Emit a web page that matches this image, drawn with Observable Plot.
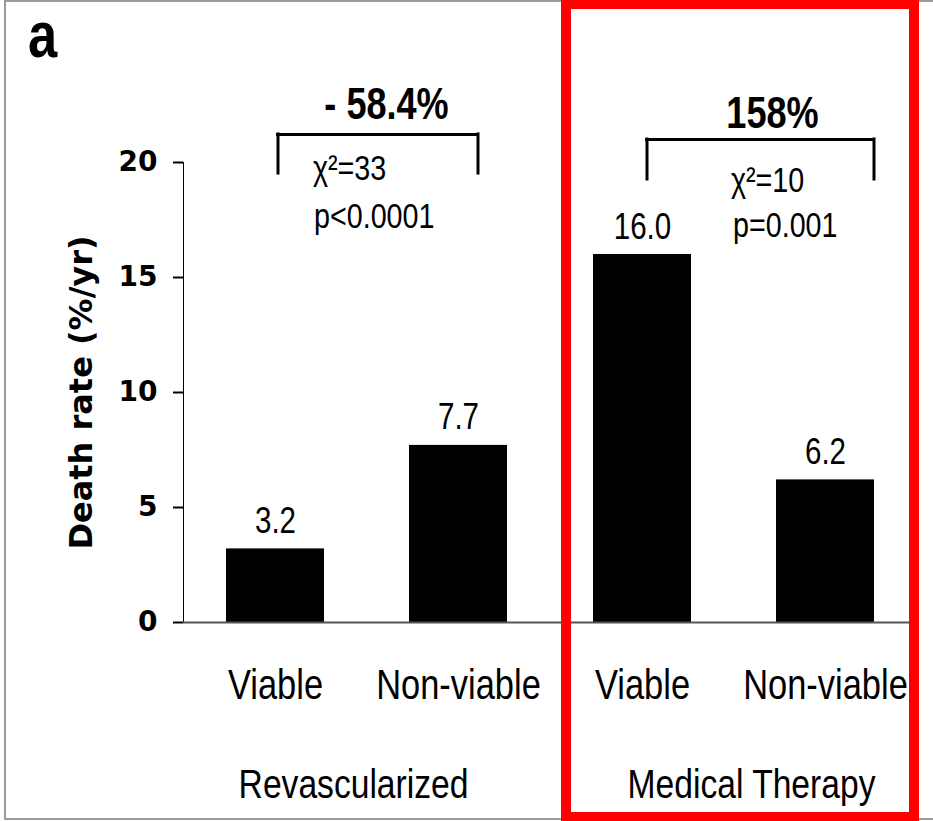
<!DOCTYPE html>
<html>
<head>
<meta charset="utf-8">
<script src="https://cdn.jsdelivr.net/npm/d3@7"></script>
<script src="https://cdn.jsdelivr.net/npm/@observablehq/plot@0.6"></script>
<style>
  html, body { margin: 0; padding: 0; background: #fff; overflow: hidden; }
  #wrap { position: relative; width: 933px; height: 821px; overflow: hidden; background: #fff; }
  #chart { position: absolute; left: 0; top: 0; }
  #chart svg { display: block; }
  #frame { position: absolute; left: 4px; top: 0; width: 960px; height: 816px; border: 2px solid #9a9a9a; }
  #red { position: absolute; left: 561px; top: -1px; width: 358px; height: 823px; border: 10px solid #ff0000; box-sizing: border-box; }
  #panel { position: absolute; left: 28px; top: 3px; font: bold 64px "Liberation Sans Narrow", "Liberation Sans", sans-serif; line-height: 1; color: #000; transform: scaleX(0.82); transform-origin: left top; }
  g[aria-label="y-axis tick label"], g[aria-label="y-axis"] g.tick text {
    font-family: "DejaVu Sans", sans-serif; font-weight: bold; font-size: 28px;
  }
  g[aria-label="x-axis tick label"], g[aria-label="x-axis"] g.tick text {
    font-family: "Liberation Sans Narrow", "Arial Narrow", "Liberation Sans", sans-serif; font-size: 42px;
  }
  g[aria-label="y-axis tick"], g[aria-label="y-axis"] g.tick line { stroke-width: 2px; stroke: #333; }
</style>
</head>
<body>
<div id="wrap">
  <div id="chart"></div>
  <div id="frame"></div>
  <div id="panel"></div>
  <div id="red"></div>
</div>
<script>
// ---- data ----
const panelLabel = "a";
const groups = ["Revascularized", "Medical Therapy"];
const conditions = ["Viable", "Non-viable"];
const revascularizedRates = [3.2, 7.7];
const medicalTherapyRates = [16.0, 6.2];
const changeLabels = ["- 58.4%", "158%"];
const chiLabels = ["χ²=33", "χ²=10"];
const pLabels = ["p<0.0001", "p=0.001"];
const yTicks = [0, 5, 10, 15, 20];
const yLabel = "Death rate (%/yr)";

// ---- tables built from the arrays ----
const ratesByGroup = [revascularizedRates, medicalTherapyRates];
const table = groups.flatMap((g, i) => conditions.map((c, j) => ({group: g, condition: c, rate: ratesByGroup[i][j]})));
const annotRows = groups.map((g, i) => ({group: g, change: changeLabels[i], chi: chiLabels[i], p: pLabels[i]}));

// ---- annotation layout (styling, in data units / pixel offsets) ----
const annotLayout = [
  {labelDx: 111, labelY: 21.9, legL: 2.5, legR: 19.5, top: 21.22, bottom: 19.52, chiDx: 37.5, chiY: 19.22, pDx: 38.5, pY: 17.17},
  {labelDx: 130, labelY: 21.48, legL: 4.5, legR: 48.5, top: 21.0, bottom: 19.26, chiDx: 88.5, chiY: 18.70, pDx: 90.5, pY: 16.74}
];
const groupLabelDx = [-13.5, 17.5];
const narrow = '"Liberation Sans Narrow", "Arial Narrow", "Liberation Sans", sans-serif';
const halfBand = 49;
const fmt = d3.format(".1f");

const annotMarks = annotRows.flatMap((row, i) => {
  const L = annotLayout[i];
  const d = [row];
  return [
    Plot.ruleX(d, {fx: "group", x: () => conditions[0], y1: L.bottom, y2: L.top, dx: L.legL, stroke: "#000", strokeWidth: 3, strokeLinecap: "square"}),
    Plot.ruleX(d, {fx: "group", x: () => conditions[1], y1: L.bottom, y2: L.top, dx: L.legR, stroke: "#000", strokeWidth: 3, strokeLinecap: "square"}),
    Plot.ruleY(d, {fx: "group", y: L.top, x1: () => conditions[0], x2: () => conditions[1], insetLeft: halfBand + L.legL, insetRight: halfBand - L.legR, stroke: "#000", strokeWidth: 3, strokeLinecap: "square"}),
    Plot.text(d, {fx: "group", x: () => conditions[0], y: L.labelY, dx: L.labelDx, text: "change", lineAnchor: "bottom", textAnchor: "middle", fontSize: 44, fontWeight: "bold", fontFamily: narrow, fill: "#000"}),
    Plot.text(d, {fx: "group", x: () => conditions[0], y: L.chiY, dx: L.chiDx, text: "chi", lineAnchor: "bottom", textAnchor: "start", fontSize: 35, fontFamily: narrow, fill: "#000"}),
    Plot.text(d, {fx: "group", x: () => conditions[0], y: L.pY, dx: L.pDx, text: "p", lineAnchor: "bottom", textAnchor: "start", fontSize: 35, fontFamily: narrow, fill: "#000"})
  ];
});

const groupLabelMarks = groups.map((g, i) =>
  Plot.text([g], {fx: d => d, text: d => d, frameAnchor: "bottom", dy: 175, dx: groupLabelDx[i], lineAnchor: "bottom", textAnchor: "middle", fontSize: 41, fontFamily: narrow, fill: "#000"})
);

const chart = Plot.plot({
  width: 933,
  height: 821,
  marginLeft: 183,
  marginRight: 16,
  marginTop: 162,
  marginBottom: 199,
  style: {background: "transparent", color: "#000", overflow: "visible"},
  fx: {domain: groups, padding: 0, axis: null, label: null},
  x: {domain: conditions, paddingInner: 0.467, paddingOuter: 0.231, tickSize: 0, tickPadding: 47, label: null},
  y: {domain: [0, 20], ticks: yTicks, tickSize: 10, tickPadding: 16, line: true, label: null},
  marks: [
    Plot.barY(table, {fx: "group", x: "condition", y: "rate", fill: "#000"}),
    Plot.ruleY([0], {stroke: "#555", strokeWidth: 2}),
    Plot.text(table, {fx: "group", x: "condition", y: "rate", text: d => fmt(d.rate), dy: -16, lineAnchor: "bottom", fontSize: 36, fontFamily: narrow, fill: "#000"}),
    Plot.text([yLabel], {fx: () => groups[0], frameAnchor: "left", rotate: -90, text: d => d, dx: -102, lineAnchor: "middle", textAnchor: "middle", fontSize: 32, fontWeight: "bold", fontFamily: '"DejaVu Sans", sans-serif', fill: "#000"}),
    ...annotMarks,
    ...groupLabelMarks
  ]
});
document.getElementById("chart").appendChild(chart);
document.getElementById("panel").textContent = panelLabel;

// The reference uses a condensed face; emulate it by condensing the glyphs horizontally.
chart.querySelectorAll("text").forEach(t => {
  const ff = getComputedStyle(t).fontFamily;
  if (ff.includes("Narrow")) {
    const w = t.getComputedTextLength();
    t.setAttribute("textLength", (w * 0.82).toFixed(1));
    t.setAttribute("lengthAdjust", "spacingAndGlyphs");
  }
});
</script>
</body>
</html>
